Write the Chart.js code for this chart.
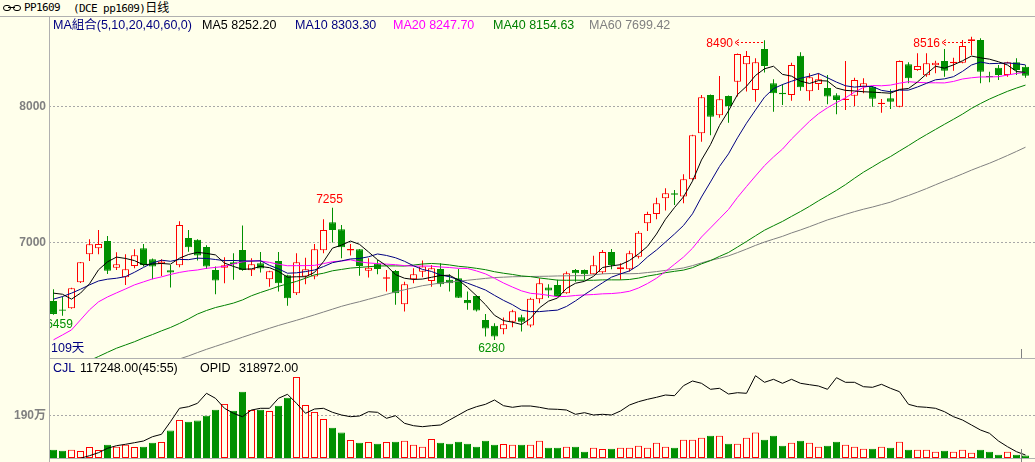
<!DOCTYPE html>
<html>
<head>
<meta charset="utf-8">
<script src="https://cdn.jsdelivr.net/npm/chart.js@4.4.1/dist/chart.umd.min.js"></script>
<style>
body { margin: 0; background: #FFFFEB; }
#wrap { position: relative; width: 1035px; height: 462px; overflow: hidden; background: #FFFFEB; }
canvas { position: absolute; left: 0; }
.t { position: absolute; white-space: nowrap; font-family: "Liberation Sans", "Noto Sans CJK SC", sans-serif; font-size: 12.5px; line-height: 14px; }
.ln { position: absolute; background: #B0B0B0; }
.ttl { position: absolute; top: 2px; white-space: nowrap; font-family: "DejaVu Sans Mono", "Noto Sans CJK SC", monospace; font-size: 11px; letter-spacing: -0.6px; line-height: 12px; color: #000; }
</style>
</head>
<body>
<div id="wrap">
  <canvas id="priceChart" width="1035" height="341" style="top:17px"></canvas>
  <canvas id="volChart" width="1035" height="103" style="top:359px"></canvas>

  <div style="position:absolute;left:3px;top:5px;width:6px;height:4px;border:1px solid #000;border-radius:3px"></div>
  <div style="position:absolute;left:13px;top:5px;width:6px;height:4px;border:1px solid #000;border-radius:3px"></div>
  <div style="position:absolute;left:8px;top:7px;width:7px;height:1px;background:#000"></div>
  <div class="ttl" style="left:24px">PP1609</div>
  <div class="ttl" style="left:73px">(DCE pp1609)<span style="font-size:12px;letter-spacing:0">日线</span></div>

  <div class="ln" style="left:0;top:16px;width:1035px;height:1px"></div>
  <div class="ln" style="left:49px;top:17px;width:1px;height:445px"></div>
  <div class="ln" style="left:49px;top:358px;width:986px;height:1px"></div>
  <div class="ln" style="left:49px;top:458px;width:986px;height:1px"></div>
  <div class="ln" style="left:1021px;top:349px;width:1px;height:9px;background:#808080"></div>
  <div class="ln" style="left:1021px;top:449px;width:1px;height:13px;background:#808080"></div>

  <div class="t" style="left:53px;top:18px;color:#000080">MA組合(5,10,20,40,60,0)</div>
  <div class="t" style="left:202px;top:18px;color:#000000">MA5 8252.20</div>
  <div class="t" style="left:295px;top:18px;color:#000080">MA10 8303.30</div>
  <div class="t" style="left:393px;top:18px;color:#FF00FF">MA20 8247.70</div>
  <div class="t" style="left:493px;top:18px;color:#008000">MA40 8154.63</div>
  <div class="t" style="left:589px;top:18px;color:#808080">MA60 7699.42</div>
  <div class="t" style="left:51px;top:341px;color:#000080">109天</div>

  <div class="t" style="left:53px;top:361px;color:#000080">CJL</div>
  <div class="t" style="left:80px;top:361px;color:#000">117248.00(45:55)</div>
  <div class="t" style="left:200px;top:361px;color:#000">OPID</div>
  <div class="t" style="left:239px;top:361px;color:#000">318972.00</div>
</div>

<script>
var opens = [6568,6505,6514,6706,6912,6956,7010,6813,6743,6826,
	6956,6875,6841,6794,6831,7032,7018,6966,6796,6813,
	6853,6944,6794,6846,6728,6863,6757,6625,6747,6747,
	6942,7148,7096,6939,6949,6791,6841,6732,6789,6544,
	6728,6782,6715,6804,6723,6735,6575,6605,6428,6384,
	6359,6415,6448,6386,6580,6666,6686,6625,6796,6796,
	6765,6780,6929,6802,6802,6894,7141,7209,7325,7362,
	7337,7465,7804,8086,7937,8079,8184,8312,8123,8425,
	8172,8103,8086,8376,8113,8167,8138,8084,8049,8081,
	8147,8147,8020,8062,8000,8312,8270,8231,8305,8337,
	8320,8324,8484,8492,8226,8287,8234,8327,8295];

var highs = [6654,6600,6665,6855,7023,7091,7047,6927,6912,6949,
	6988,6880,6875,6833,7155,7091,7023,6979,6821,6890,
	6920,7123,6883,6929,6790,6929,6760,6920,6887,6988,
	7170,7255,7128,6988,6951,6883,6870,6796,6796,6710,
	6809,6865,6833,6846,6765,6804,6637,6608,6472,6404,
	6445,6502,6465,6592,6735,6691,6723,6784,6804,6800,
	6900,6944,6951,6846,6937,7084,7226,7329,7399,7386,
	7502,7792,8086,8090,8226,8082,8392,8411,8357,8490,
	8202,8165,8324,8401,8246,8246,8234,8099,8337,8214,
	8209,8153,8057,8128,8340,8327,8394,8394,8339,8425,
	8361,8492,8516,8505,8258,8307,8332,8357,8307];

var lows = [6465,6459,6510,6700,6863,6912,6767,6796,6686,6809,
	6821,6728,6752,6666,6816,6931,6865,6804,6617,6698,
	6723,6790,6752,6777,6673,6637,6533,6612,6691,6728,
	6920,6998,6883,6902,6754,6740,6765,6637,6539,6489,
	6698,6743,6673,6673,6637,6590,6502,6490,6305,6280,
	6323,6374,6342,6374,6551,6592,6600,6620,6710,6723,
	6762,6767,6802,6723,6784,6880,7084,7170,7234,7275,
	7288,7460,7742,7789,7919,7882,8074,8111,8037,8251,
	7963,8013,8044,8118,8044,8123,8018,7944,7976,8005,
	8099,8000,7956,7983,7995,8172,8265,8221,8246,8221,
	8265,8320,8381,8172,8180,8197,8221,8234,8214];

var closes = [6472,6495,6662,6853,6986,6988,6791,6838,6802,6905,
	6833,6821,6858,6777,7128,6964,6902,6821,6718,6831,
	6838,6796,6838,6806,6787,6698,6588,6853,6802,6949,
	7091,7091,6964,6951,6826,6813,6804,6743,6625,6691,
	6765,6821,6809,6691,6698,6592,6551,6497,6364,6305,
	6396,6492,6415,6583,6698,6644,6605,6772,6772,6765,
	6831,6929,6833,6816,6920,7071,7209,7288,7362,7351,
	7465,7789,8069,7926,8055,8005,8388,8374,8327,8300,
	8099,8091,8307,8143,8217,8202,8074,8049,8059,8197,
	8172,8059,8029,8037,8337,8209,8300,8320,8324,8265,
	8332,8447,8497,8258,8217,8234,8327,8270,8228];

var ma5 = [6625,6617,6581,6625,6694,6797,6856,6891,6881,6865,
	6834,6840,6844,6839,6883,6910,6926,6918,6907,6847,
	6822,6801,6804,6822,6813,6785,6743,6746,6746,6778,
	6857,6957,6979,7009,6985,6929,6872,6827,6762,6735,
	6726,6729,6742,6755,6757,6722,6668,6606,6540,6462,
	6423,6411,6394,6438,6517,6566,6589,6660,6698,6712,
	6749,6814,6826,6835,6866,6914,6970,7061,7170,7256,
	7335,7451,7607,7720,7861,7969,8089,8150,8230,8279,
	8298,8238,8225,8188,8171,8192,8189,8137,8120,8116,
	8110,8107,8103,8099,8127,8134,8182,8241,8298,8284,
	8308,8338,8373,8360,8350,8331,8307,8259,8253];

var ma10 = [6581,6600,6625,6654,6686,6715,6728,6735,6747,6779,
	6815,6848,6868,6860,6874,6872,6883,6881,6873,6865,
	6866,6863,6861,6864,6830,6804,6772,6775,6784,6796,
	6821,6850,6863,6877,6881,6893,6914,6903,6886,6860,
	6827,6800,6785,6759,6746,6724,6699,6674,6648,6609,
	6572,6540,6500,6489,6489,6495,6500,6527,6568,6614,
	6658,6701,6743,6767,6789,6831,6892,6943,7002,7061,
	7124,7210,7334,7445,7559,7652,7770,7878,7975,8070,
	8133,8163,8187,8209,8225,8245,8213,8181,8154,8144,
	8151,8148,8120,8110,8122,8122,8145,8172,8198,8205,
	8221,8260,8307,8329,8317,8319,8322,8317,8308];

var ma20 = [6281,6317,6354,6428,6502,6561,6597,6627,6656,6686,
	6708,6730,6745,6763,6778,6789,6796,6808,6815,6822,
	6841,6856,6864,6862,6852,6838,6827,6828,6828,6830,
	6843,6857,6862,6871,6856,6848,6843,6839,6835,6828,
	6824,6825,6824,6818,6814,6808,6807,6789,6767,6735,
	6700,6670,6642,6624,6618,6609,6599,6601,6608,6612,
	6615,6620,6622,6628,6639,6663,6696,6735,6785,6838,
	6891,6956,7039,7106,7174,7242,7331,7411,7489,7565,
	7629,7687,7761,7827,7892,7948,7992,8030,8065,8107,
	8142,8156,8154,8159,8173,8184,8179,8176,8176,8175,
	8186,8204,8213,8219,8219,8221,8233,8245,8253];

var ma40 = [null,null,null,null,6128,6158,6189,6219,6243,6267,
	6295,6320,6347,6372,6402,6435,6471,6497,6519,6535,
	6552,6575,6606,6630,6652,6675,6694,6712,6735,6760,
	6772,6790,6800,6810,6815,6820,6825,6826,6826,6825,
	6832,6840,6844,6840,6833,6823,6817,6808,6798,6783,
	6772,6763,6752,6747,6737,6729,6721,6720,6721,6720,
	6720,6723,6723,6723,6726,6736,6751,6762,6776,6786,
	6795,6813,6841,6865,6896,6925,6965,7006,7048,7089,
	7122,7154,7191,7227,7265,7306,7344,7383,7425,7472,
	7517,7556,7596,7632,7673,7713,7755,7794,7832,7870,
	7907,7945,7987,8023,8056,8085,8113,8137,8159];

var ma60 = [null,null,null,null,null,null,null,null,null,null,
	null,null,null,null,6140,6162,6187,6211,6233,6255,
	6277,6300,6322,6344,6366,6387,6406,6425,6445,6465,
	6486,6507,6528,6546,6562,6580,6598,6616,6635,6650,
	6665,6680,6690,6700,6706,6713,6720,6727,6734,6740,
	6743,6746,6747,6748,6749,6750,6752,6753,6754,6754,
	6760,6767,6770,6769,6768,6770,6777,6784,6793,6801,
	6811,6828,6848,6867,6882,6900,6924,6950,6977,7002,
	7023,7044,7069,7091,7115,7140,7165,7185,7206,7226,
	7244,7260,7278,7296,7322,7345,7370,7396,7424,7451,
	7477,7504,7532,7558,7583,7611,7640,7670,7701];

var volumes = [370000,330000,370000,310000,490000,360000,600000,510000,600000,490000,
	510000,690000,720000,1230000,1710000,1630000,1680000,1900000,2170000,2430000,
	2120000,2980000,2160000,2170000,2110000,2350000,2710000,3640000,2380000,2070000,
	1750000,1360000,1140000,810000,690000,720000,640000,720000,730000,780000,
	600000,510000,850000,690000,640000,730000,640000,510000,780000,600000,
	630000,600000,600000,600000,780000,460000,460000,510000,510000,280000,
	460000,400000,420000,460000,460000,550000,460000,690000,510000,460000,
	820000,820000,910000,1000000,1000000,640000,640000,910000,1140000,820000,
	1000000,550000,690000,780000,690000,510000,550000,730000,600000,510000,
	420000,420000,510000,460000,730000,370000,370000,370000,280000,330000,
	280000,370000,240000,370000,280000,150000,280000,150000,117248];

var openInterest = [null,null,null,302500,315500,330500,352500,365500,372500,380500,
	389000,410500,422500,485500,552500,560500,577500,627500,602500,552500,
	527500,510500,544000,552500,552500,602500,622500,577500,527500,549000,
	552500,532500,519000,510500,514000,535500,532500,502500,515500,477500,
	465500,460500,465500,469000,494000,519000,544000,560500,572500,594000,
	565500,557500,564000,564000,557500,549000,547500,544000,522500,530500,
	519000,522500,519000,539000,569000,585500,597500,607500,619000,615500,
	665500,689000,677500,647500,652500,624000,630500,627500,715500,682500,
	697500,677500,697500,677500,670500,664000,647500,705500,682500,682500,
	660500,657500,672500,652500,635500,572500,560500,557500,552500,535500,
	510500,494000,469000,444000,427500,389000,360500,335500,318972];

var priceTicks = [7000, 8000];
var volTicks = [1900000];

// highs / lows the terminal flags on the chart
var markDays = [1, 31, 49, 79, 102];
var markValues = [6459, 7255, 6280, 8490, 8516];
var markKinds = ['low', 'high', 'low', 'arrow', 'arrow'];

var UP = '#FF0000';
var DOWN = '#009000';
var BG = '#FFFFEB';
var FONT = '"Liberation Sans", "Noto Sans CJK SC", sans-serif';

var days = closes.map(function (c, i) { return i; });

function isUp(i) {
	return closes[i] >= opens[i];
}

function series(arr) {
	return arr.map(function (v, i) { return {x: i, y: v}; });
}

function maLine(arr, color) {
	return {
		type: 'line',
		data: series(arr),
		borderColor: color,
		borderWidth: 1,
		pointRadius: 0,
		tension: 0,
		order: 0
	};
}

function leftAxis(min, max, ticks, fmt) {
	return {
		min: min,
		max: max,
		position: 'left',
		afterFit: function (s) {
			s.width = 49;
			s.paddingTop = 0;
			s.paddingBottom = 0;
		},
		afterBuildTicks: function (s) {
			s.ticks = ticks.map(function (v) { return {value: v}; });
		},
		ticks: {
			color: '#808080',
			padding: 3,
			font: {family: FONT, size: 12, weight: 'bold'},
			callback: fmt
		},
		grid: {color: '#A8A8A8', drawTicks: false, lineWidth: 1},
		border: {display: false, dash: [2, 2]}
	};
}

var xAxis = {type: 'linear', display: false, offset: false, min: -0.5, max: 109.0556};

var markPlugin = {
	id: 'marks',
	afterDatasetsDraw: function (chart) {
		var ctx = chart.ctx;
		var a = chart.chartArea;
		var xs = chart.scales.x;
		var ys = chart.scales.y;
		ctx.save();
		ctx.beginPath();
		ctx.rect(a.left, a.top, a.right - a.left, a.bottom - a.top);
		ctx.clip();
		ctx.font = '12px ' + FONT;
		ctx.textBaseline = 'alphabetic';
		for (var k = 0; k < markDays.length; k++) {
			var x = xs.getPixelForValue(markDays[k]);
			var y = ys.getPixelForValue(markValues[k]);
			var txt = String(markValues[k]);
			if (markKinds[k] === 'low') {
				ctx.fillStyle = DOWN;
				ctx.textAlign = 'center';
				ctx.fillText(txt, x - 3, y + 12.5);
			} else if (markKinds[k] === 'high') {
				ctx.fillStyle = UP;
				ctx.textAlign = 'center';
				ctx.fillText(txt, x - 3, y - 4.5);
			} else {
				var ay = Math.round(Math.max(y, a.top + 24.5)) + 0.5;
				var tip = x - 29.5;
				ctx.fillStyle = UP;
				ctx.strokeStyle = UP;
				ctx.lineWidth = 1;
				ctx.textAlign = 'right';
				ctx.fillText(txt, x - 31.5, ay + 4.5);
				ctx.beginPath();
				ctx.moveTo(tip + 4, ay - 3);
				ctx.lineTo(tip, ay);
				ctx.lineTo(tip + 4, ay + 3);
				ctx.stroke();
				ctx.setLineDash([2, 2]);
				ctx.beginPath();
				ctx.moveTo(tip + 2, ay);
				ctx.lineTo(x - 1, ay);
				ctx.stroke();
				ctx.setLineDash([]);
			}
		}
		ctx.restore();
	}
};

var priceChart = new Chart('priceChart', {
	type: 'bar',
	data: {
		datasets: [
			maLine(ma5, '#000000'),
			maLine(ma10, '#000080'),
			maLine(ma20, '#FF00FF'),
			maLine(ma40, '#008000'),
			maLine(ma60, '#808080'),
			{
				type: 'bar',
				data: days.map(function (i) { return {x: i, y: [opens[i], closes[i]]}; }),
				backgroundColor: days.map(function (i) { return isUp(i) ? BG : DOWN; }),
				borderColor: days.map(function (i) { return isUp(i) ? UP : DOWN; }),
				borderWidth: 1,
				borderSkipped: false,
				barThickness: 7,
				minBarLength: 1,
				inflateAmount: 0,
				grouped: false,
				order: 1
			},
			{
				type: 'bar',
				data: days.map(function (i) { return {x: i, y: [lows[i], highs[i]]}; }),
				backgroundColor: days.map(function (i) { return isUp(i) ? UP : DOWN; }),
				borderWidth: 0,
				barThickness: 1,
				inflateAmount: 0,
				grouped: false,
				order: 2
			}
		]
	},
	options: {
		responsive: false,
		animation: false,
		events: [],
		layout: {padding: 0},
		scales: {
			x: xAxis,
			y: leftAxis(6147, 8661, priceTicks)
		},
		plugins: {legend: {display: false}, tooltip: {enabled: false}}
	},
	plugins: [markPlugin]
});

var volAxis = leftAxis(0, 4446000, volTicks, function (v) { return (v / 10000) + '万'; });

var volChart = new Chart('volChart', {
	type: 'bar',
	data: {
		datasets: [
			{
				type: 'line',
				yAxisID: 'y2',
				data: series(openInterest),
				borderColor: '#000000',
				borderWidth: 1,
				pointRadius: 0,
				tension: 0,
				order: 0
			},
			{
				type: 'bar',
				yAxisID: 'y',
				data: series(volumes),
				backgroundColor: days.map(function (i) { return isUp(i) ? BG : DOWN; }),
				borderColor: days.map(function (i) { return isUp(i) ? UP : DOWN; }),
				borderWidth: 1,
				borderSkipped: false,
				barThickness: 7,
				inflateAmount: 0,
				grouped: false,
				order: 1
			}
		]
	},
	options: {
		responsive: false,
		animation: false,
		events: [],
		layout: {padding: {bottom: 4}},
		scales: {
			x: xAxis,
			y: volAxis,
			y2: {display: false, min: 304000, max: 799000}
		},
		plugins: {legend: {display: false}, tooltip: {enabled: false}}
	}
});
</script>
</body>
</html>
